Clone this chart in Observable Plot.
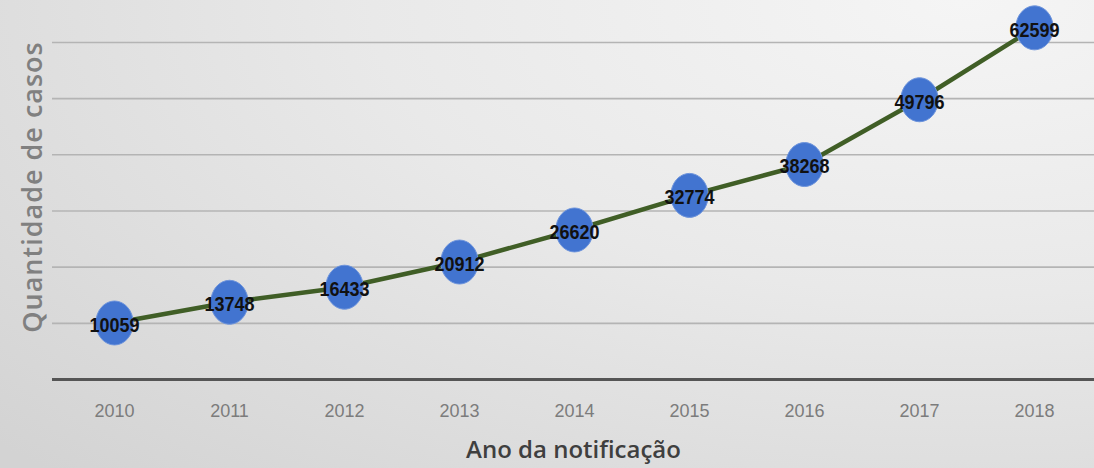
<!DOCTYPE html>
<html>
<head>
<meta charset="utf-8">
<script src="https://cdn.jsdelivr.net/npm/d3@7"></script>
<script src="https://cdn.jsdelivr.net/npm/@observablehq/plot@0.6"></script>
<style>
  html, body { margin: 0; padding: 0; background: #e2e2e2; }
  #chart { width: 1094px; height: 468px; }
</style>
</head>
<body>
<div id="chart"></div>
<script>
const years = ["2010", "2011", "2012", "2013", "2014", "2015", "2016", "2017", "2018"];
const cases = [10059, 13748, 16433, 20912, 26620, 32774, 38268, 49796, 62599];
const gridValues = [10000, 20000, 30000, 40000, 50000, 60000];
const xTitle = "Ano da notificação";
const yTitle = "Quantidade de casos";

const data = years.map((y, i) => ({year: y, value: cases[i]}));

// slightly tall ellipse marker (the reference's markers are stretched vertically)
const ellipse = {
  draw(context, size) {
    const ry = Math.sqrt(size / Math.PI);
    const rx = ry * 0.85;
    const k = 0.5523;
    context.moveTo(rx, 0);
    context.bezierCurveTo(rx, k * ry, k * rx, ry, 0, ry);
    context.bezierCurveTo(-k * rx, ry, -rx, k * ry, -rx, 0);
    context.bezierCurveTo(-rx, -k * ry, -k * rx, -ry, 0, -ry);
    context.bezierCurveTo(k * rx, -ry, rx, -k * ry, rx, 0);
    context.closePath();
  }
};

const chart = Plot.plot({
  width: 1094,
  height: 468,
  marginLeft: 52,
  marginRight: 0,
  marginTop: 0,
  marginBottom: 89,
  style: {
    background: "radial-gradient(ellipse 120% 140% at 88% 0%, #f5f5f5 0%, #e9e9e9 45%, #d3d3d3 100%)",
    overflow: "visible"
  },
  x: {type: "point", domain: years, range: [110, 1037], padding: 0, label: null},
  y: {domain: [0, 67470], axis: null},
  marks: [
    Plot.ruleY(gridValues, {stroke: "#b4b4b4", strokeWidth: 1.6}),
    Plot.ruleY([0], {stroke: "#555555", strokeWidth: 3}),
    Plot.axisX({tickSize: 0, tickPadding: 25, fontSize: 18, fill: "#7c7c7c", fontFamily: "'Liberation Sans', sans-serif", label: null}),
    Plot.line(data, {x: "year", y: "value", stroke: "#405e26", strokeWidth: 4.5}),
    Plot.dot(data, {x: "year", y: "value", r: 22, symbol: ellipse, fill: "#4274d0", stroke: "#6f95dc", strokeWidth: 1}),
    Plot.text(data, {x: "year", y: "value", text: d => String(d.value), dy: 2, fontSize: 21, fontWeight: "bold", fill: "#111", fontFamily: "'Liberation Sans', sans-serif", className: "ptlabel"}),
    Plot.text([xTitle], {frameAnchor: "bottom", dy: 78, fontSize: 24, fontWeight: 600, fill: "#3f3f3f", fontFamily: "'Open Sans', sans-serif", textAnchor: "middle"}),
    Plot.text([yTitle], {frameAnchor: "left", dx: -19, dy: -3, rotate: -90, textAnchor: "middle", fontSize: 27, fontWeight: 600, fill: "#808080", fontFamily: "'Open Sans', sans-serif", className: "ytitle"})
  ]
});
document.getElementById("chart").appendChild(chart);
// condense the point labels (the reference uses a narrow bold face)
document.querySelectorAll(".ptlabel text").forEach(t => {
  t.setAttribute("textLength", String(t.textContent.length * 10));
  t.setAttribute("lengthAdjust", "spacingAndGlyphs");
});
document.querySelectorAll(".ytitle text").forEach(t => t.setAttribute("letter-spacing", "1"));
</script>
</body>
</html>
